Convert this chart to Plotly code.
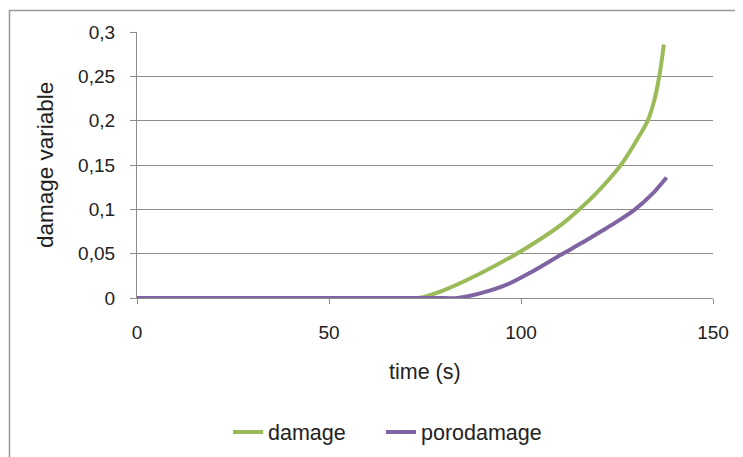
import plotly.graph_objects as go

# damage series
damage_t = [0, 70, 73.2, 80, 90, 98.9, 104.9, 110.6, 115.2, 120, 126, 130, 133, 134.6, 136, 137.2]
damage_v = [0, 0, 0, 0.009, 0.029, 0.05, 0.066, 0.083, 0.1, 0.12, 0.15, 0.177, 0.2, 0.221, 0.25, 0.286]

# porodamage series
poro_t = [0, 80, 83.5, 90, 96.3, 103, 110.5, 116, 121, 125.5, 129.7, 134, 137.9]
poro_v = [0, 0, 0, 0.006, 0.015, 0.03, 0.049, 0.0625, 0.0755, 0.0875, 0.1, 0.1165, 0.136]

y_ticks = [0, 0.05, 0.1, 0.15, 0.2, 0.25, 0.3]
y_ticktext = ["0", "0,05", "0,1", "0,15", "0,2", "0,25", "0,3"]
x_ticks = [0, 50, 100, 150]

GREEN = "#9BBB59"
PURPLE = "#8064A2"
GRID = "#8c8c8c"
TXT = "#222222"

fig = go.Figure()
fig.add_trace(go.Scatter(x=damage_t, y=damage_v, mode="lines", name="damage", legend="legend",
                         line=dict(color=GREEN, width=4, shape="spline", smoothing=1)))
fig.add_trace(go.Scatter(x=poro_t, y=poro_v, mode="lines", name="porodamage", legend="legend2",
                         line=dict(color=PURPLE, width=4, shape="spline", smoothing=0.9)))

OFF = 8  # page body margin
W, H = 743, 457
L, R, T, B = 137 - OFF, 743 - (713 - OFF), 32 - OFF, 457 - (298 - OFF)
pw = W - L - R
ph = H - T - B

def px_x(p):
    return (p - OFF - L) / pw

def px_y(p):
    return (H - B - (p - OFF)) / ph

leg_common = dict(orientation="h", xanchor="left", y=px_y(432), yanchor="middle",
                  font=dict(size=21.5, color=TXT), bgcolor="rgba(0,0,0,0)")

fig.update_layout(
    width=W, height=H,
    margin=dict(l=L, r=R, t=T, b=B, autoexpand=False),
    paper_bgcolor="white", plot_bgcolor="white",
    font=dict(family="Liberation Sans, Arial, sans-serif", size=19, color=TXT),
    showlegend=True,
    legend=dict(x=px_x(228), **leg_common),
    legend2=dict(x=px_x(381), **leg_common),
    xaxis=dict(range=[0, 150], tickvals=x_ticks, showgrid=False, zeroline=False,
               showline=True, linecolor=GRID, linewidth=1.3,
               ticks="outside", ticklen=5, tickcolor=GRID, tickwidth=1.3,
               ticklabelstandoff=12, tickfont=dict(size=19, color=TXT), fixedrange=True),
    yaxis=dict(range=[0, 0.3], tickvals=y_ticks, ticktext=y_ticktext,
               showgrid=True, gridcolor=GRID, gridwidth=1.3, zeroline=False,
               showline=True, linecolor=GRID, linewidth=1.3,
               ticks="outside", ticklen=6, tickcolor=GRID, tickwidth=1.3,
               ticklabelstandoff=11, tickfont=dict(size=19, color=TXT), fixedrange=True),
    annotations=[
        dict(text="time (s)", xref="paper", yref="paper", x=px_x(425), y=px_y(372),
             xanchor="center", yanchor="middle", showarrow=False, font=dict(size=21.5, color=TXT)),
        dict(text="damage variable", xref="paper", yref="paper", x=px_x(45), y=px_y(165),
             xanchor="center", yanchor="middle", textangle=-90, showarrow=False,
             font=dict(size=22.5, color=TXT)),
    ],
    shapes=[
        dict(type="rect", xref="paper", yref="paper",
             x0=px_x(9.5), y0=px_y(10.5), x1=px_x(770), y1=px_y(490),
             line=dict(color="#999999", width=1.5), fillcolor="rgba(0,0,0,0)", layer="below"),
    ],
)

fig.write_html("out.html")
